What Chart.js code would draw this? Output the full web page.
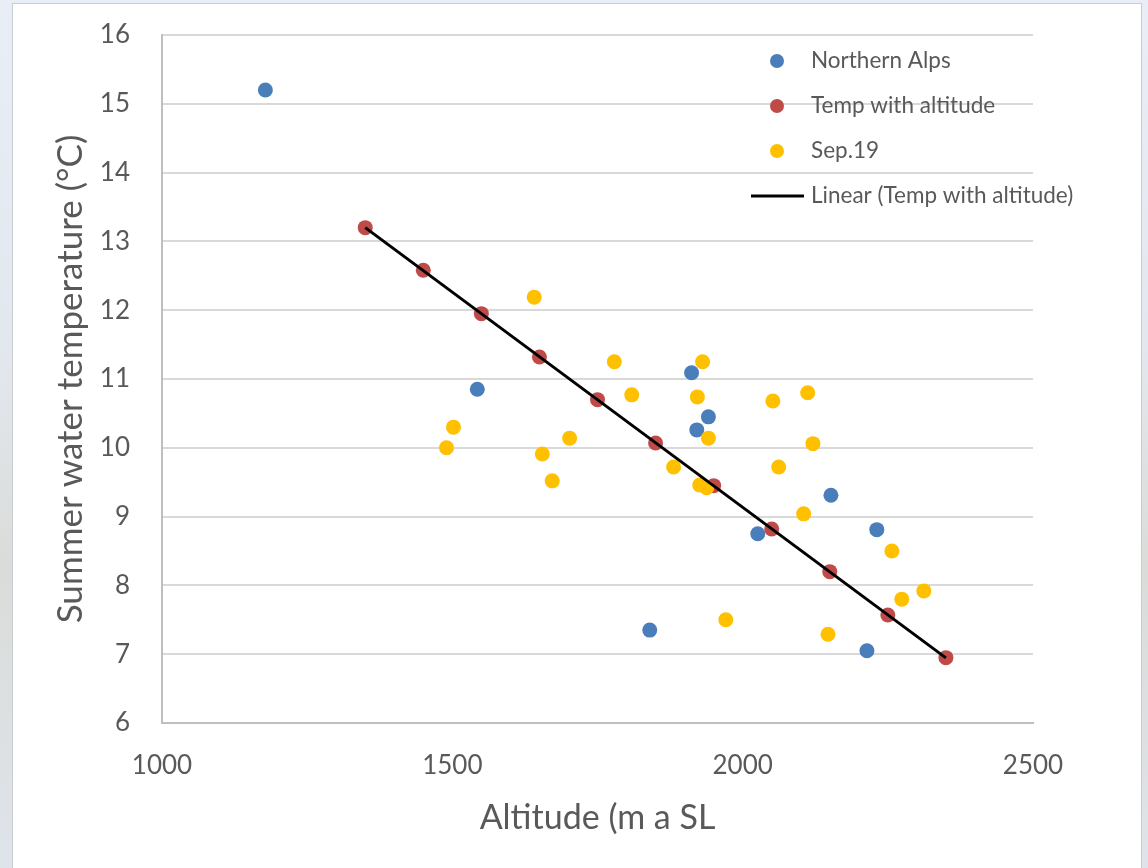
<!DOCTYPE html>
<html>
<head>
<meta charset="utf-8">
<script src="https://cdn.jsdelivr.net/npm/chart.js@4"></script>
<style>
  html, body { margin: 0; padding: 0; }
  body {
    width: 1148px; height: 868px; overflow: hidden; position: relative;
    background: linear-gradient(180deg, #e9eef6 0%, #e3e8ef 40%, #d9dcd8 65%, #dfe4eb 100%);
  }
  #panel {
    position: absolute; left: 12px; top: 3px; width: 1130px; height: 868px;
    background: #fff; border: 1px solid #c9ccd0; box-sizing: border-box;
  }
  #plot { position: absolute; left: 0; top: 0; }
</style>
</head>
<body>
<div id="panel"></div>
<canvas id="plot" width="1148" height="868"></canvas>
<script>
// Northern Alps sites
var alpsAlt  = [1178, 1543, 1912, 1921, 1941, 2152, 2026, 2231, 1840, 2214];
var alpsTemp = [15.2, 10.85, 11.09, 10.26, 10.45, 9.31, 8.75, 8.81, 7.35, 7.05];

// lapse-rate reference points
var refAlt  = [1350, 1450, 1550, 1650, 1750, 1850, 1950, 2050, 2150, 2250, 2350];
var refTemp = [13.2, 12.58, 11.95, 11.32, 10.7, 10.07, 9.45, 8.82, 8.2, 7.57, 6.95];

// September 2019 survey
var sepAlt  = [1641, 1490, 1502, 1655, 1672, 1702, 1779, 1809, 1881, 1931, 1922, 1941,
               1926, 1938, 1971, 2052, 2062, 2112, 2121, 2105, 2147, 2257, 2274, 2312];
var sepTemp = [12.19, 10.0, 10.3, 9.91, 9.52, 10.14, 11.25, 10.77, 9.72, 11.25, 10.74, 10.14,
               9.46, 9.42, 7.5, 10.68, 9.72, 10.8, 10.06, 9.04, 7.29, 8.5, 7.8, 7.92];

var xTicks = [1000, 1500, 2000, 2500];
var yTicks = [6, 7, 8, 9, 10, 11, 12, 13, 14, 15, 16];

function pts(xs, ys) {
  return xs.map(function (x, i) { return {x: x, y: ys[i]}; });
}

// least-squares trend through the reference points
function trend(xs, ys) {
  var n = xs.length, sx = 0, sy = 0, sxx = 0, sxy = 0;
  for (var i = 0; i < n; i++) { sx += xs[i]; sy += ys[i]; sxx += xs[i] * xs[i]; sxy += xs[i] * ys[i]; }
  var b = (n * sxy - sx * sy) / (n * sxx - sx * sx);
  var a = (sy - b * sx) / n;
  var x0 = Math.min.apply(null, xs), x1 = Math.max.apply(null, xs);
  return [{x: x0, y: a + b * x0}, {x: x1, y: a + b * x1}];
}

var FONT = "Lato, 'Open Sans', sans-serif";
var TEXT = "#595959";

var legendRows = {
  id: "legendRows",
  afterDraw: function (chart) {
    var ctx = chart.ctx, ca = chart.chartArea;
    var mx = ca.right - 256, tx = ca.right - 222, y0 = ca.top + 26, dy = 45;
    ctx.save();
    ctx.font = "22.5px " + FONT;
    ctx.textBaseline = "middle";
    chart.data.datasets.forEach(function (ds, i) {
      var y = y0 + i * dy;
      if (ds.type === "line") {
        ctx.strokeStyle = ds.borderColor;
        ctx.lineWidth = ds.borderWidth;
        ctx.beginPath();
        ctx.moveTo(mx - 26, y);
        ctx.lineTo(mx + 27, y);
        ctx.stroke();
      } else {
        ctx.fillStyle = ds.backgroundColor;
        ctx.beginPath();
        ctx.arc(mx, y, 7, 0, Math.PI * 2);
        ctx.fill();
      }
      ctx.fillStyle = TEXT;
      ctx.fillText(ds.label, tx, y);
    });
    ctx.restore();
  }
};

function plain(v) { return String(v); }

new Chart("plot", {
  type: "scatter",
  data: {
    datasets: [{
      label: "Northern Alps",
      data: pts(alpsAlt, alpsTemp),
      backgroundColor: "#4a7ebb",
      order: 3
    }, {
      label: "Temp with altitude",
      data: pts(refAlt, refTemp),
      backgroundColor: "#be4b48",
      order: 2
    }, {
      label: "Sep.19",
      data: pts(sepAlt, sepTemp),
      backgroundColor: "#ffc000",
      order: 1
    }, {
      type: "line",
      label: "Linear (Temp with altitude)",
      data: trend(refAlt, refTemp),
      borderColor: "#000",
      borderWidth: 3,
      pointRadius: 0,
      fill: false,
      order: 0
    }]
  },
  options: {
    responsive: false,
    animation: false,
    layout: {padding: {left: 0, top: 35, right: 115, bottom: 0}},
    elements: {point: {radius: 7.5, borderWidth: 0, hoverRadius: 7.5}},
    plugins: {legend: {display: false}, tooltip: {enabled: false}},
    scales: {
      x: {
        type: "linear", min: 1000, max: 2500,
        afterBuildTicks: function (axis) { axis.ticks = xTicks.map(function (v) { return {value: v}; }); },
        afterFit: function (axis) { axis.height = 145; },
        grid: {display: false},
        border: {display: true, color: "#bfbfbf", width: 2},
        ticks: {color: TEXT, font: {family: FONT, size: 26}, padding: 19, maxRotation: 0, callback: plain},
        title: {display: true, text: "Altitude (m a SL", color: TEXT,
                font: {family: FONT, size: 34}, padding: {top: 0, bottom: 30}}
      },
      y: {
        min: 6, max: 16,
        afterBuildTicks: function (axis) { axis.ticks = yTicks.map(function (v) { return {value: v}; }); },
        afterFit: function (axis) {
          axis.width = 162;
          axis.paddingTop = 0;
          axis.paddingBottom = 0;
        },
        grid: {color: "#d9d9d9", lineWidth: 2, drawTicks: false},
        border: {display: true, color: "#bfbfbf", width: 2},
        ticks: {color: TEXT, font: {family: FONT, size: 26}, padding: 32, callback: plain},
        title: {display: true, text: "Summer water temperature (°C)", color: TEXT,
                font: {family: FONT, size: 35}, padding: {top: 50, bottom: 0}}
      }
    }
  },
  plugins: [legendRows]
});
</script>
</body>
</html>
